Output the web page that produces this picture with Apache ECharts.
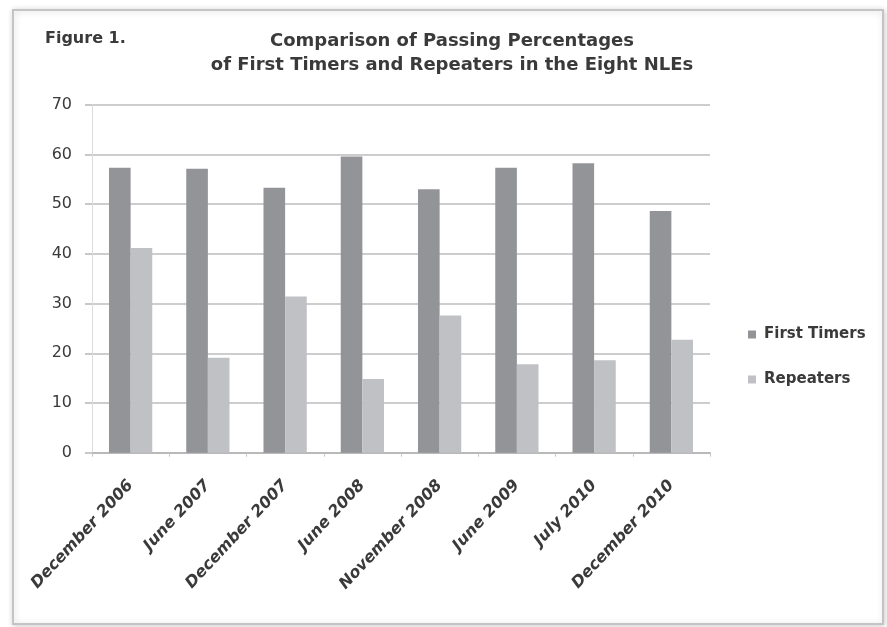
<!DOCTYPE html>
<html>
<head>
<meta charset="utf-8">
<title>Comparison of Passing Percentages</title>
<script src="https://cdn.jsdelivr.net/npm/echarts@6/dist/echarts.min.js"></script>
<style>
  html, body { margin: 0; padding: 0; background: #ffffff; }
  #chart { width: 887px; height: 627px; }
</style>
</head>
<body>
<div id="chart"></div>
<script>
// Exam sittings (categories)
const examinations = [
  'December 2006', 'June 2007', 'December 2007', 'June 2008',
  'November 2008', 'June 2009', 'July 2010', 'December 2010'
];
// Passing percentages
const firstTimers = [57.3, 57.1, 53.3, 59.6, 53.0, 57.3, 58.2, 48.6];
const repeaters   = [41.2, 19.1, 31.4, 14.8, 27.6, 17.8, 18.6, 22.7];
// Value axis
const yMin = 0, yMax = 70, yStep = 10;

const chart = echarts.init(document.getElementById('chart'), null, { renderer: 'canvas' });

const textDark = '#3a3a3a';

chart.setOption({
  backgroundColor: '#ffffff',
  animation: false,
  graphic: [
    {
      type: 'rect',
      left: 12, top: 9,
      shape: { width: 870, height: 614 },
      style: {
        fill: '#ffffff',
        stroke: '#c4c4c4',
        lineWidth: 2,
        shadowBlur: 6,
        shadowColor: 'rgba(0,0,0,0.18)',
        shadowOffsetX: 1,
        shadowOffsetY: 1
      },
      z: -10
    },
    {
      type: 'text',
      left: 45, top: 31,
      style: {
        text: 'Figure 1.',
        fill: textDark,
        font: 'bold 16px "DejaVu Sans"'
      }
    },
    {
      type: 'text',
      x: 452, y: 29,
      style: {
        text: 'Comparison of Passing Percentages\nof First Timers and Repeaters in the Eight NLEs',
        fill: textDark,
        font: 'bold 18px "DejaVu Sans"',
        align: 'center',
        lineHeight: 24
      }
    }
  ],
  grid: {
    left: 92, right: 177, top: 104.7, bottom: 174.3,
    containLabel: false
  },
  legend: {
    orient: 'vertical',
    left: 743, top: 322,
    itemWidth: 8, itemHeight: 8,
    itemGap: 30,
    icon: 'rect',
    textStyle: {
      fontFamily: '"DejaVu Sans"',
      fontWeight: 'bold',
      fontSize: 15,
      color: textDark,
      padding: [0, 0, 0, 3]
    },
    data: ['First Timers', 'Repeaters']
  },
  xAxis: {
    type: 'category',
    data: examinations,
    axisLine: { show: true, lineStyle: { color: '#b9b9b9', width: 2 } },
    axisTick: { show: true, length: 4, lineStyle: { color: '#c4c4c4', width: 1 } },
    axisLabel: {
      rotate: 47,
      margin: 30,
      color: textDark,
      fontFamily: '"DejaVu Sans"',
      fontStyle: 'italic',
      fontWeight: 'bold',
      fontSize: 16,
      interval: 0
    },
    splitLine: { show: false }
  },
  yAxis: {
    type: 'value',
    min: yMin, max: yMax, interval: yStep,
    axisLine: { show: true, lineStyle: { color: '#dcdcdc', width: 1 } },
    axisTick: { show: true, length: 7, lineStyle: { color: '#c8c8c8', width: 2 } },
    axisLabel: {
      margin: 20,
      color: textDark,
      fontFamily: '"DejaVu Sans"',
      fontSize: 16
    },
    splitLine: { show: true, lineStyle: { color: '#cdcdcd', width: 2 } }
  },
  series: [
    {
      name: 'First Timers',
      type: 'bar',
      data: firstTimers,
      barGap: '0%',
      barCategoryGap: '44%',
      itemStyle: { color: '#939498' }
    },
    {
      name: 'Repeaters',
      type: 'bar',
      data: repeaters,
      itemStyle: { color: '#c0c1c4' }
    }
  ]
});
</script>
</body>
</html>
